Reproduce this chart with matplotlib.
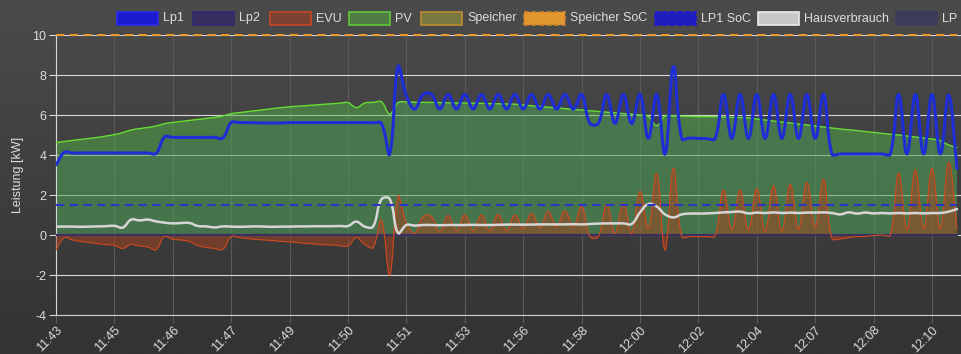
import numpy as np
import matplotlib as mpl
import matplotlib.pyplot as plt
from matplotlib.path import Path
from matplotlib.patches import PathPatch, Rectangle
from matplotlib.colors import LinearSegmentedColormap

plt.rcParams['font.family'] = ['Liberation Sans', 'DejaVu Sans']
plt.rcParams['font.size'] = 9
plt.rcParams['axes.unicode_minus'] = False

# x axis: one sample every ~17 s, a label every 7 samples
times = ['11:43', '11:45', '11:46', '11:47', '11:49', '11:50', '11:51', '11:53',
         '11:56', '11:58', '12:00', '12:02', '12:04', '12:07', '12:08', '12:10']
tick_step = 7

# Leistung in kW
lp1 = [3.5, 4.13, 4.1, 4.1, 4.1, 4.1, 4.1, 4.1, 4.1, 4.1, 4.1, 4.1, 4.08,
       4.9, 4.88, 4.88, 4.88, 4.88, 4.88, 4.88, 4.85,
       5.62, 5.62, 5.62, 5.61, 5.6, 5.6, 5.6, 5.62, 5.62, 5.62, 5.62, 5.62, 5.62,
       5.62, 5.62, 5.62, 5.62, 5.61, 5.58,
       4.05, 8.42, 6.95, 6.3, 7.03, 7.03, 6.3, 7.03, 6.3, 7.03, 6.3, 7.03, 6.3,
       7.03, 6.3, 7.03, 6.3, 7.03, 6.3, 7.03, 6.3, 7.03, 6.3, 7.03,
       5.58, 5.58, 7.03, 5.58, 7.03, 5.58, 7.03, 4.83, 7.03, 4.05, 8.42,
       4.83, 4.85, 4.83, 4.82, 4.82, 7.03, 4.83, 7.03, 4.83, 7.03, 4.83, 7.03,
       4.83, 7.03, 4.83, 7.03, 4.83, 7.03,
       4.05, 4.05, 4.05, 4.05, 4.05, 4.05, 4.05, 4.05,
       7.03, 4.05, 7.03, 4.05, 7.03, 4.05, 7.0, 3.33]

pv = [4.62, 4.68, 4.73, 4.78, 4.83, 4.88, 4.95, 5.02, 5.12, 5.25, 5.32, 5.38,
      5.45, 5.57, 5.63, 5.68, 5.73, 5.78, 5.83, 5.88, 5.95, 6.07, 6.12, 6.17,
      6.22, 6.27, 6.32, 6.37, 6.41, 6.44, 6.47, 6.5, 6.53, 6.56, 6.59, 6.62,
      6.37, 6.6, 6.63, 6.66, 6.05, 6.62, 6.65, 6.64, 6.63, 6.63, 6.62, 6.61,
      6.6, 6.6, 6.59, 6.58, 6.57, 6.56, 6.55, 6.54, 6.5, 6.46, 6.43, 6.39,
      6.36, 6.32, 6.28, 6.25, 6.21, 6.18, 6.14, 6.11, 6.07, 6.04, 6.0, 5.93,
      5.47, 5.95, 5.95, 5.94, 5.93, 5.92, 5.92, 5.91, 5.9, 5.89, 5.88, 5.85,
      5.8, 5.75, 5.7, 5.65, 5.6, 5.55, 5.5, 5.45, 5.4, 5.35, 5.3, 5.26, 5.22,
      5.17, 5.13, 5.08, 5.04, 5.0, 4.95, 4.9, 4.85, 4.8, 4.72, 4.5, 4.37]

evu = [-0.75, -0.13, -0.25, -0.32, -0.38, -0.43, -0.48, -0.52, -0.67, -0.47,
       -0.55, -0.6, -0.73, -0.08, -0.22, -0.25, -0.33, -0.53, -0.62, -0.67,
       -0.72, -0.08, -0.13, -0.18, -0.22, -0.25, -0.28, -0.32, -0.35, -0.38,
       -0.42, -0.45, -0.48, -0.5, -0.53, -0.55, -0.13, -0.47, -0.63, 0.75,
       -2.0, 1.92, 0.6, 0.08, 0.92, 0.92, 0.17, 0.97, 0.22, 1.0, 0.22, 1.0,
       0.22, 1.03, 0.22, 1.0, 0.33, 1.08, 0.37, 1.17, 0.42, 1.2, 0.42, 1.42,
       -0.08, -0.08, 1.5, 0.08, 1.58, 0.08, 2.17, 0.33, 3.08, -0.75, 3.33,
       -0.08, -0.08, -0.08, -0.08, -0.05, 2.25, 0.25, 2.25, 0.25, 2.33, 0.2,
       2.45, 0.2, 2.53, 0.3, 2.63, 0.42, 2.78, -0.17, -0.2, -0.13, -0.08,
       -0.08, -0.02, 0.0, 0.0, 3.08, 0.3, 3.25, 0.33, 3.33, 0.33, 3.63, 0.3]

hausverbrauch = [0.42, 0.42, 0.42, 0.41, 0.42, 0.43, 0.44, 0.46, 0.37, 0.77,
                 0.73, 0.77, 0.68, 0.62, 0.58, 0.6, 0.6, 0.45, 0.43, 0.38,
                 0.43, 0.42, 0.41, 0.42, 0.43, 0.42, 0.41, 0.42, 0.42, 0.43,
                 0.43, 0.44, 0.44, 0.44, 0.45, 0.45, 0.67, 0.42, 0.42, 1.78,
                 1.8, 0.1, 0.5, 0.47, 0.5, 0.5, 0.49, 0.5, 0.5, 0.5, 0.51,
                 0.5, 0.5, 0.51, 0.52, 0.52, 0.52, 0.52, 0.53, 0.53, 0.53,
                 0.53, 0.54, 0.53, 0.55, 0.57, 0.58, 0.58, 0.58, 0.55, 1.13,
                 1.55, 1.42, 1.03, 0.88, 1.03, 1.07, 1.07, 1.08, 1.1, 1.13,
                 1.15, 1.17, 1.08, 1.12, 1.1, 1.13, 1.1, 1.12, 1.1, 1.12,
                 1.12, 1.13, 1.1, 1.03, 1.13, 1.07, 1.12, 1.08, 1.1, 1.08,
                 1.1, 1.08, 1.1, 1.08, 1.1, 1.1, 1.17, 1.3]

n = len(lp1)
lp2 = np.zeros(n)
lp1_soc = np.full(n, 1.5)
speicher_soc = np.full(n, 10.0)
x = np.arange(n)

W, H = 962, 354
x_px, y_px = 8.343, 20.0   # pixel size of one sample / one kW, for the curve tension


def spline_path(xs, ys, base=None, t=0.4):
    # bezier curve through the points, same rule as chart.js tension 0.4
    xs = np.asarray(xs, float)
    ys = np.asarray(ys, float)
    m = len(xs)
    cp_prev, cp_next = [], []
    for i in range(m):
        a = max(i - 1, 0)
        b = min(i + 1, m - 1)
        d01 = np.hypot((xs[i] - xs[a]) * x_px, (ys[i] - ys[a]) * y_px)
        d12 = np.hypot((xs[b] - xs[i]) * x_px, (ys[b] - ys[i]) * y_px)
        s01 = d01 / (d01 + d12) if d01 + d12 > 0 else 0
        fa = t * s01
        fb = t * (1 - s01) if d01 + d12 > 0 else 0
        cp_prev.append((xs[i] - fa * (xs[b] - xs[a]), ys[i] - fa * (ys[b] - ys[a])))
        cp_next.append((xs[i] + fb * (xs[b] - xs[a]), ys[i] + fb * (ys[b] - ys[a])))
    verts = [(xs[0], ys[0])]
    codes = [Path.MOVETO]
    for i in range(1, m):
        verts += [cp_next[i - 1], cp_prev[i], (xs[i], ys[i])]
        codes += [Path.CURVE4] * 3
    if base is not None:
        verts += [(xs[-1], base), (xs[0], base), (xs[0], ys[0])]
        codes += [Path.LINETO, Path.LINETO, Path.CLOSEPOLY]
    return Path(verts, codes)


def curve(ax, ys, color, lw, z):
    ax.add_patch(PathPatch(spline_path(x, ys), facecolor='none', edgecolor=color,
                           lw=lw, zorder=z, capstyle='round', joinstyle='round'))


def area(ax, ys, color, alpha, z):
    ax.add_patch(PathPatch(spline_path(x, ys, base=0.0), facecolor=color,
                           edgecolor='none', alpha=alpha, zorder=z))


fig = plt.figure(figsize=(W / 100, H / 100), dpi=100)

# dark gradient background
bg = fig.add_axes([0, 0, 1, 1], zorder=-10)
bg.imshow(np.linspace(0, 1, 256).reshape(-1, 1), aspect='auto', extent=[0, 1, 0, 1],
          cmap=LinearSegmentedColormap.from_list('bg', ['#4b4b4b', '#333333']))
bg.axis('off')

ax = fig.add_axes([56 / W, 1 - 315 / H, 906 / W, 280 / H])
ax.set_facecolor('none')
ax.set_xlim(0, (W - 56) / x_px)
ax.set_ylim(-4, 10)
ax.set_axisbelow(True)

area(ax, lp1, '#2020e0', 0.12, 1)
area(ax, pv, '#54b048', 0.5, 2)
area(ax, evu, '#a8421f', 0.5, 3)
ax.plot(x, lp2, color='#3b2f60', lw=1.6, zorder=4)
curve(ax, pv, '#66dd33', 1.0, 5)
curve(ax, evu, '#d2491e', 0.8, 5)
curve(ax, hausverbrauch, '#d6d6d6', 1.8, 6)
ax.plot(x, lp1_soc, color='#2a35c8', lw=1.5, dashes=(4, 2.6), zorder=6)
ax.plot(x, speicher_soc, color='#e8992c', lw=1.5, dashes=(4, 2.6), zorder=7, clip_on=False)
curve(ax, lp1, '#1e2ed6', 2.2, 8)

# axes and grid
ax.set_yticks(range(-4, 11, 2))
ax.set_xticks(x[::tick_step])
ax.set_xticklabels(times, rotation=45, ha='right', va='top', rotation_mode='anchor')
ax.grid(axis='y', color='#d8d8d8', lw=0.8)
ax.grid(axis='x', color='#5a5a5a', lw=0.8)
ax.tick_params(axis='y', length=5, width=0.8, color='#d8d8d8', labelcolor='#dddddd', pad=2)
ax.tick_params(axis='x', length=5.5, width=0.8, color='#5a5a5a', labelcolor='#dddddd', pad=1)
for side in ['top', 'right']:
    ax.spines[side].set_visible(False)
ax.spines['left'].set_color('#d8d8d8')
ax.spines['bottom'].set_color('#cccccc')
ax.spines['left'].set_linewidth(0.8)
ax.spines['bottom'].set_linewidth(0.8)

fig.text(18 / W, 1 - 175 / H, 'Leistung [kW]', rotation=90, ha='center', va='center',
         color='#dddddd')

# legend row across the top (runs past the right edge like the original)
legend_items = [
    ('Lp1', '#1a1ad0', '#2a2ae8', False),
    ('Lp2', '#372d5f', '#2d2a70', False),
    ('EVU', '#7a4232', '#c84623', False),
    ('PV', '#507d46', '#5fc83c', False),
    ('Speicher', '#787841', '#be8c32', False),
    ('Speicher SoC', '#e1962f', '#d0842a', True),
    ('LP1 SoC', '#1e1ec0', '#1a1ad8', True),
    ('Hausverbrauch', '#c8c8c8', '#ececec', False),
    ('LP Gesamt', '#3c3c5a', '#3c3c5a', False),
]
legend_x = [117, 193, 270, 349, 421, 524, 655, 758, 896]
for (label, face, edge, dashed), bx in zip(legend_items, legend_x):
    fig.add_artist(Rectangle((bx / W, 1 - 25 / H), 41 / W, 13 / H, transform=fig.transFigure,
                             facecolor=face, edgecolor=edge, lw=1.2,
                             linestyle=(0, (3, 1.5)) if dashed else '-'))
    fig.text((bx + 46) / W, 1 - 18.5 / H, label, ha='left', va='center', color='#dddddd')

fig.savefig('out.png', dpi=100)
